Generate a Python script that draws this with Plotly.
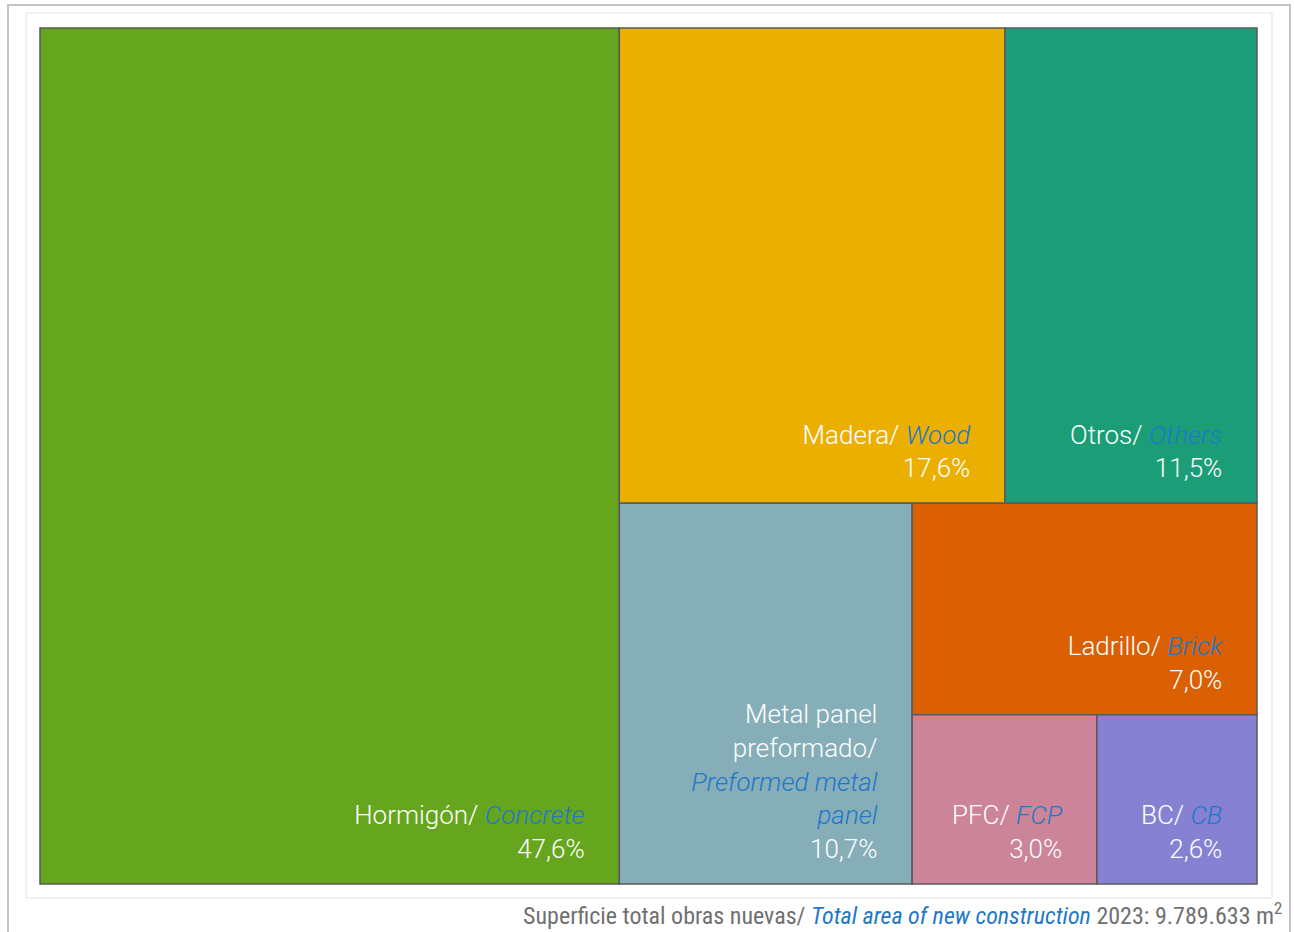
import plotly.graph_objects as go

# Data
labels_es = ["Hormigón", "Madera", "Otros", "Metal panel<br>preformado", "Ladrillo", "PFC", "BC"]
labels_en = ["Concrete", "Wood", "Others", "Preformed metal<br>panel", "Brick", "FCP", "CB"]
shares = [47.6, 17.6, 11.5, 10.7, 7.0, 3.0, 2.6]
pct_labels = ["47,6%", "17,6%", "11,5%", "10,7%", "7,0%", "3,0%", "2,6%"]
colors = ["#65a61e", "#ebaf02", "#1b9e77", "#86aeb8", "#da6003", "#cc8499", "#8681d3"]

BLUE = "#1f78c8"
NB = "\u00a0"
PAD = NB * 5
TAIL = f"<br><sup><span style='font-size:1px'>{NB}</span></sup>"

texts = []
for es, en, pct in zip(labels_es, labels_en, pct_labels):
    if "<br>" in es:
        es_lines = (es + "/").split("<br>")
        en_lines = en.split("<br>")
        out = [l + PAD for l in es_lines]
        out += [f"<i><span style='color:{BLUE}'>{l}</span></i>" + PAD for l in en_lines]
        out += [pct + PAD]
        t = "<br>".join(out)
    else:
        t = f"{es}/{NB}<i><span style='color:{BLUE}'>{en}</span></i>{PAD}<br>{pct}{PAD}"
    texts.append(t + TAIL)

fig = go.Figure(go.Treemap(
    labels=[e.replace("<br>", " ") for e in labels_en],
    parents=[""] * len(shares),
    values=shares,
    text=texts,
    texttemplate="%{text}",
    textposition="bottom right",
    sort=True,
    tiling=dict(packing="squarify", squarifyratio=1, pad=0),
    marker=dict(colors=colors, line=dict(color="#5a5a5a", width=1.5),
                pad=dict(t=0, l=0, r=0, b=0)),
    textfont=dict(family="Roboto Light, Roboto", size=26, color="white", weight=300),
    pathbar=dict(visible=False),
    hoverinfo="skip",
))

PW, PH = 1217, 856
fig.update_layout(
    width=1294, height=932,
    margin=dict(l=40, r=37, t=28, b=48),
    paper_bgcolor="white",
    plot_bgcolor="white",
    shapes=[
        dict(type="rect", xref="paper", yref="paper",
             x0=-32/PW, x1=1250/PW, y0=-0.1, y1=(PH + 23)/PH,
             line=dict(color="#c4c4c4", width=2), fillcolor="rgba(0,0,0,0)"),
        dict(type="rect", xref="paper", yref="paper",
             x0=-14/PW, x1=1232/PW, y0=-14/PH, y1=(PH + 15)/PH,
             line=dict(color="#e2e2e2", width=1), fillcolor="rgba(0,0,0,0)"),
    ],
    annotations=[
        dict(
            xref="paper", yref="paper", x=1244/PW, y=-30/PH,
            xanchor="right", yanchor="middle", showarrow=False,
            text=("Superficie total obras nuevas/ "
                  f"<i><span style='color:{BLUE}'>Total area of new construction</span></i>"
                  " 2023: 9.789.633 m<sup>2</sup>"),
            font=dict(family="Liberation Sans Narrow, Roboto Condensed, Arial Narrow, sans-serif",
                      size=24, color="#707070"),
        )
    ],
)

fig.write_html("out.html", config={"displayModeBar": False},
               post_script="document.body.style.margin='0';")
